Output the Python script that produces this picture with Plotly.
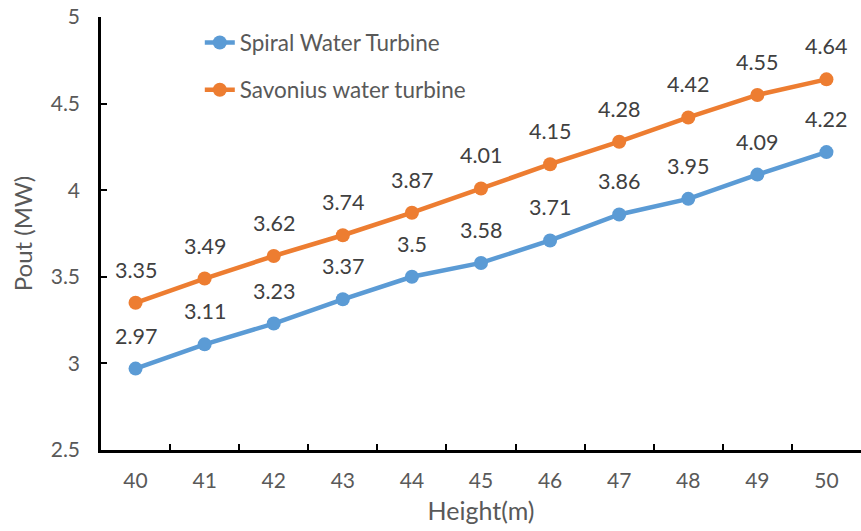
import plotly.graph_objects as go

heights = [40, 41, 42, 43, 44, 45, 46, 47, 48, 49, 50]
spiral = [2.97, 3.11, 3.23, 3.37, 3.5, 3.58, 3.71, 3.86, 3.95, 4.09, 4.22]
savonius = [3.35, 3.49, 3.62, 3.74, 3.87, 4.01, 4.15, 4.28, 4.42, 4.55, 4.64]
y_ticks = [2.5, 3, 3.5, 4, 4.5, 5]
y_tick_text = ["2.5", "3", "3.5", "4", "4.5", "5"]

cats = [str(h) for h in heights]
FONT = "Lato, Carlito, Calibri, sans-serif"
GREY = "#595959"
LABEL = "#404040"

fig = go.Figure()
fig.add_trace(go.Scatter(
    x=cats, y=spiral, name="Spiral Water Turbine", mode="lines+markers",
    line=dict(color="#5B9BD5", width=4.5), marker=dict(size=14, color="#5B9BD5"),
    legendgroup="a",
))
fig.add_trace(go.Scatter(
    x=cats, y=savonius, name="Savonius water turbine", mode="lines+markers",
    line=dict(color="#ED7D31", width=4.5), marker=dict(size=14, color="#ED7D31"),
    legendgroup="b",
))

for series in (spiral, savonius):
    for i, v in enumerate(series):
        fig.add_annotation(
            x=i, y=v, xref="x", yref="y", text=f"{v:g}", showarrow=False, yshift=33,
            font=dict(family=FONT, size=21.5, color=LABEL),
        )

fig.update_layout(
    width=861, height=531,
    margin=dict(l=101, r=0, t=17, b=81),
    paper_bgcolor="white", plot_bgcolor="white",
    font=dict(family=FONT, size=21, color=GREY),
    showlegend=True,
    legend=dict(x=0.13, y=0.99, xanchor="left", yanchor="top",
                traceorder="grouped", tracegroupgap=15,
                bgcolor="rgba(0,0,0,0)", font=dict(size=22.5, color=GREY)),
    xaxis=dict(
        type="category", range=[-0.5, len(cats) - 0.5],
        tickson="boundaries", ticks="inside", ticklen=6, tickwidth=2, tickcolor="black",
        showline=True, linecolor="black", linewidth=2.5, showgrid=False, zeroline=False,
        tickfont=dict(size=21, color=GREY), ticklabelstandoff=10,
        title=dict(text="Height(m)", font=dict(size=25, color=GREY), standoff=12),
    ),
    yaxis=dict(
        range=[2.5, 5], tickvals=y_ticks, ticktext=y_tick_text,
        ticks="inside", ticklen=6, tickwidth=2, tickcolor="black",
        showline=True, linecolor="black", linewidth=2.5, showgrid=False, zeroline=False,
        tickfont=dict(size=21, color=GREY), ticklabelstandoff=14,
        title=dict(text="Pout (MW)", font=dict(size=24, color=GREY), standoff=12),
    ),
)

fig.write_html("out.html")
